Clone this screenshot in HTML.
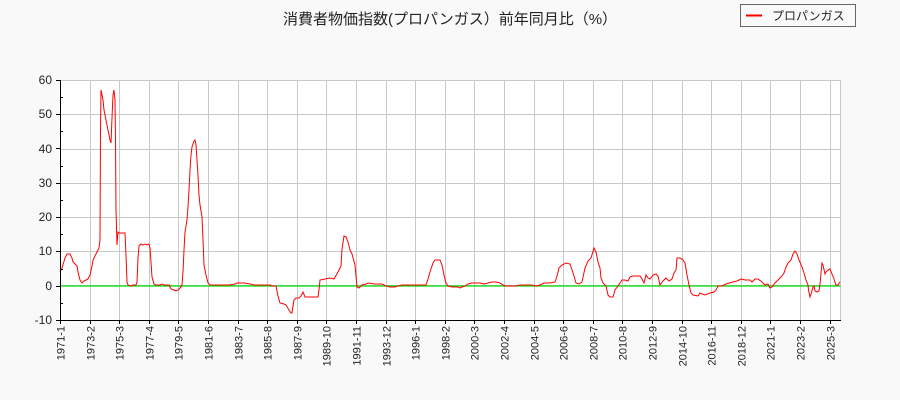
<!DOCTYPE html>
<html><head><meta charset="utf-8"><style>
html,body{margin:0;padding:0;background:#f9f9f9;}
svg{display:block;font-family:"Liberation Sans","Noto Sans CJK JP",sans-serif;}
</style></head><body>
<svg width="900" height="400" viewBox="0 0 900 400" xmlns="http://www.w3.org/2000/svg">
<rect width="900" height="400" fill="#f9f9f9"/>
<rect x="60.5" y="80" width="780" height="240" fill="#fff"/>
<g stroke="#c8c8c8" stroke-width="1">
<line x1="60.5" x2="840.5" y1="80.5" y2="80.5"/>
<line x1="60.5" x2="840.5" y1="114.5" y2="114.5"/>
<line x1="60.5" x2="840.5" y1="149.5" y2="149.5"/>
<line x1="60.5" x2="840.5" y1="183.5" y2="183.5"/>
<line x1="60.5" x2="840.5" y1="217.5" y2="217.5"/>
<line x1="60.5" x2="840.5" y1="251.5" y2="251.5"/>
<line x1="60.5" x2="840.5" y1="285.5" y2="285.5"/>
<line x1="840.5" x2="840.5" y1="80" y2="320"/>
</g>
<g id="vg" stroke="#c8c8c8" stroke-width="1"></g>
<line x1="60.5" x2="840.5" y1="286" y2="286" stroke="#00e000" stroke-width="1.2"/>
<polyline fill="none" stroke="#ff0000" stroke-width="1" points="60,272 62,268 65,258 67,254 70,254 72,258 73,262 75,264 77,266 78,272 80,280 82,283 84,281 86,280 88,279 90,275 92,266 93,260 95,256 97,252 99,248 100,240 100.5,130 101,90 102,95 103,100 104,110 106,120 108,130 110,140 111,143 112,118 113,95 114,90 115,100 115.5,140 116,210 117,245 118,232 119,233 125,233 126,255 127,282 128,285 131,286 133,285 136,285 137,282 138,258 139,246 141,244 143,245 145,244 147,245 149,244 150,248 151,262 152,277 154,284 156,285 160,285 162,284 164,285 169,285 170,287 171,289 174,290 176,291 178,290 180,288 182,285 183,272 184,250 185,232 187,220 188,207 189,190 190,170 191,155 192,147 194,141 195,140 196,145 197,160 198,175 199,195 200,205 202,217 203,240 204,265 206,275 208,283 210,285 212,285 215,285 220,285 230,285 235,284 237,283 240,283 245,283 250,284 254,285 257,285 262,285 270,285 272,286 276,286 278,296 280,303 284,304 286,305 289,310 291,313 292,313 293,306 294,300 296,298 299,298 301,296 303,292 305,297 308,297 318,297 319,290 320,280 325,279 330,278 334,279 338,272 341,266 342,249 344,236 346,237 348,242 350,250 352,254 355,265 357,287 359,288 362,285 366,284 368,283 375,284 382,284 386,286 390,287 395,287 398,286 402,285 420,285 426,285 428,279 430,272 433,263 435,260 440,260 442,265 444,275 446,283 448,286 452,287 458,287 460,288 462,287 465,286 468,284 472,283 480,283 484,284 488,283 492,282 496,282 500,283 503,285 506,286 512,286 516,286 520,285 526,285 532,285 536,286 540,285 544,283 550,283 555,282 557,276 559,268 562,265 566,263 570,264 572,270 574,276 576,283 579,284 582,282 585,268 588,261 591,258 594,248 596,252 598,262 600,268 601,278 603,283 606,286 608,295 610,297 613,297 615,290 618,286 620,283 622,280 625,280 628,281 630,277 633,276 640,276 642,279 644,283 646,275 648,278 650,279 653,275 656,274 658,276 660,285 663,281 666,278 669,281 672,279 674,273 676,270 677,258 680,258 683,260 685,263 687,275 689,285 691,293 693,295 698,296 700,293 702,294 705,295 710,293 714,292 716,290 718,286 722,286 726,284 729,283 733,282 737,281 741,279 745,280 750,280 752,282 755,279 758,279 762,282 765,285 768,284 770,288 772,287 775,283 778,280 781,277 784,273 786,267 788,263 791,260 793,254 795,251 797,254 799,260 802,267 804,273 806,280 808,285 808.5,290 810,297 811,294 813,287 814,286 815,291 817,292 819,291 820,284 822,263 823,265 825,274 826,272 828,270 830,269 832,274 834,279 836,285 838,285 840,282"/>
<g stroke="#000" stroke-width="1">
<line x1="60.5" x2="60.5" y1="80" y2="320"/>
<line x1="60" x2="841" y1="320.5" y2="320.5"/>
</g>
<g id="yt" stroke="#000" stroke-width="1"></g>
<g font-size="12" fill="#222" text-anchor="end">
<text x="52" y="84">60</text><text x="52" y="118">50</text><text x="52" y="153">40</text><text x="52" y="187">30</text><text x="52" y="221">20</text><text x="52" y="255">10</text><text x="52" y="290">0</text><text x="52" y="324">-10</text>
</g>
<g id="xl" font-size="11" fill="#222"></g>
<text x="450" y="24" font-size="15" text-anchor="middle" fill="#222">消費者物価指数(プロパンガス）前年同月比（%）</text>
<rect x="740.5" y="4.5" width="115" height="22" fill="#f9f9f9" stroke="#666"/>
<line x1="746" x2="762" y1="15.5" y2="15.5" stroke="#f00" stroke-width="2"/>
<text x="772" y="20" font-size="12" fill="#222">プロパンガス</text>
<script>
var labs="1971-1,1973-2,1975-3,1977-4,1979-5,1981-6,1983-7,1985-8,1987-9,1989-10,1991-11,1993-12,1996-1,1998-2,2000-3,2002-4,2004-5,2006-6,2008-7,2010-8,2012-9,2014-10,2016-11,2018-12,2021-1,2023-2,2025-3".split(",");
var ns="http://www.w3.org/2000/svg",vg=document.getElementById("vg"),xl=document.getElementById("xl"),yt=document.getElementById("yt");
function el(t,a,p){var e=document.createElementNS(ns,t);for(var k in a)e.setAttribute(k,a[k]);p.appendChild(e);return e;}
labs.forEach(function(l,i){var x=Math.round(60+i*29.6)+0.5;
 if(i>0)el("line",{x1:x,x2:x,y1:80,y2:320},vg);
 el("line",{x1:x,x2:x,y1:320,y2:324},yt);
 var t=el("text",{x:0,y:0,transform:"translate("+(x+4)+",326) rotate(-90)","text-anchor":"end"},xl);t.textContent=l;});
for(var v=-10;v<=60;v+=5){var y=Math.round(285.7-v*3.43)+0.5;el("line",{x1:60,x2:v%10==0?56:63,y1:y,y2:y},yt);}
</script>
</svg>
</body></html>
